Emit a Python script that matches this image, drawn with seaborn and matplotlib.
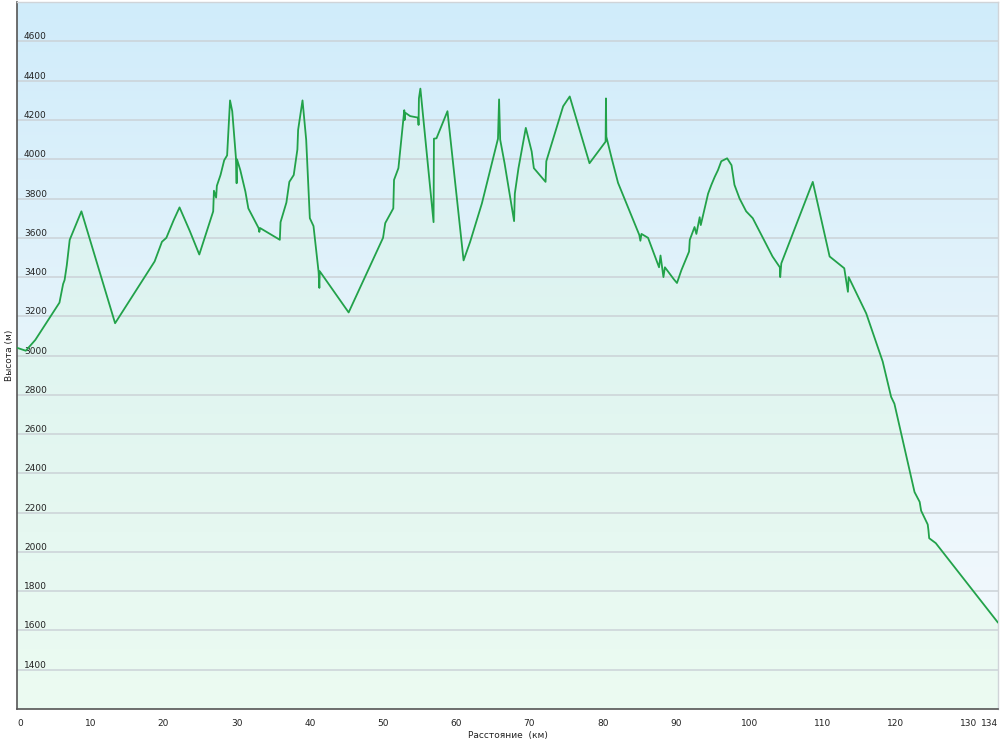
import numpy as np
import pandas as pd
import matplotlib
matplotlib.use("Agg")
import matplotlib.pyplot as plt
from matplotlib.colors import LinearSegmentedColormap
import seaborn as sns

# elevation profile
distance_km = [0.0, 1.2, 2.5, 5.8, 6.3, 6.5, 6.8, 7.2, 8.8, 13.4,
               18.8, 19.8, 20.4, 21.4, 22.2, 23.6, 24.9, 26.8, 26.9, 27.2,
               27.3, 27.8, 28.3, 28.7, 29.1, 29.4, 29.9, 30.0, 30.05, 30.5,
               31.2, 31.6, 33.0, 33.1, 33.2, 35.9, 36.0, 36.8, 37.2, 37.8,
               38.3, 38.4, 39.0, 39.5, 40.0, 40.5, 41.2, 41.3, 41.35, 45.3,
               50.0, 50.3, 51.4, 51.5, 52.1, 52.9, 52.95, 53.0, 53.7, 54.8,
               54.85, 54.9, 55.1, 56.9, 56.95, 57.3, 58.8, 61.0, 61.9, 63.5,
               65.7, 65.85, 66.0, 66.6, 67.9, 68.0, 68.5, 69.5, 70.3, 70.6,
               72.2, 72.3, 74.6, 75.5, 78.2, 80.4, 80.45, 80.5, 81.3, 82.1,
               85.0, 85.15, 85.3, 86.2, 87.7, 87.9, 88.3, 88.5, 89.7, 90.15,
               90.75, 91.8, 91.9, 92.55, 92.8, 93.25, 93.4, 94.4, 94.85, 95.3,
               95.75, 96.2, 97.0, 97.6, 98.0, 98.7, 99.6, 100.5, 103.2, 104.2,
               104.25, 104.4, 108.7, 109.4, 111.0, 113.0, 113.5, 113.6, 116.0, 118.25,
               119.4, 119.85, 122.6, 123.3, 123.5, 124.4, 124.5, 124.6, 125.5, 134.0]
elevation_m = [3040, 3025, 3080, 3270, 3365, 3385, 3460, 3590, 3735, 3165,
               3480, 3580, 3600, 3690, 3755, 3635, 3515, 3735, 3840, 3805,
               3865, 3920, 3995, 4020, 4300, 4245, 4010, 3878, 4000, 3945,
               3835, 3750, 3650, 3630, 3650, 3590, 3680, 3780, 3885, 3920,
               4050, 4150, 4300, 4100, 3700, 3660, 3425, 3345, 3430, 3220,
               3600, 3675, 3750, 3895, 3955, 4250, 4200, 4238, 4220, 4212,
               4175, 4310, 4360, 3680, 4105, 4107, 4245, 3485, 3580, 3775,
               4105, 4305, 4100, 3980, 3685, 3825, 3955, 4160, 4040, 3955,
               3885, 3990, 4270, 4320, 3980, 4090, 4310, 4115, 3995, 3880,
               3615, 3585, 3620, 3600, 3450, 3510, 3400, 3450, 3390, 3370,
               3435, 3530, 3590, 3655, 3620, 3705, 3665, 3825, 3870, 3910,
               3945, 3990, 4005, 3970, 3870, 3800, 3735, 3700, 3505, 3450,
               3400, 3470, 3885, 3770, 3505, 3445, 3325, 3400, 3215, 2970,
               2790, 2755, 2305, 2255, 2210, 2140, 2110, 2070, 2045, 1640]

x_ticks = [0, 10, 20, 30, 40, 50, 60, 70, 80, 90, 100, 110, 120, 130, 134]
y_ticks = [1400, 1600, 1800, 2000, 2200, 2400, 2600, 2800, 3000,
           3200, 3400, 3600, 3800, 4000, 4200, 4400, 4600]

df = pd.DataFrame({"km": distance_km, "elev": elevation_m})

sns.set_style("white")
plt.rcParams["font.family"] = ["DejaVu Sans"]

fig = plt.figure(figsize=(10, 7.44), dpi=100)
ax = fig.add_axes([0.017, 0.047, 0.981, 0.95])
x0, x1, y0, y1 = 0, 134, 1200, 4800
ax.set_xlim(x0, x1)
ax.set_ylim(y0, y1)
ax.set_axisbelow(False)

# background gradient (light blue on top, near white at bottom)
bg = LinearSegmentedColormap.from_list("bg", ["#f5fafe", "#e6f4fb", "#d0ecfa"])
grad = np.linspace(0, 1, 256).reshape(-1, 1)
ax.imshow(grad, cmap=bg, origin="lower", aspect="auto",
          extent=[x0, x1, y0, y1], zorder=0)

# green-tinted fill under the profile
fill = ax.fill_between(df["km"], df["elev"], y0, color="none", zorder=1)
fg = LinearSegmentedColormap.from_list("fg", ["#ecfbf2", "#e0f5f0", "#d6eff5"])
img = ax.imshow(grad, cmap=fg, origin="lower", aspect="auto",
                extent=[x0, x1, y0, y1], zorder=1)
img.set_clip_path(fill.get_paths()[0], transform=ax.transData)

for yv in y_ticks:
    ax.axhline(yv, color="#cbd2d7", lw=1.1, zorder=2)

sns.lineplot(data=df, x="km", y="elev", ax=ax, color="#22a24a", lw=1.3,
             estimator=None, sort=False, zorder=3)

ax.set_xticks(x_ticks)
ax.set_yticks(y_ticks)
ax.tick_params(axis="x", labelsize=6.5, length=3, width=0.8, color="#555555",
               direction="out", pad=4, labelcolor="#222222")
ax.tick_params(axis="y", labelsize=6.5, length=0, pad=-5, labelcolor="#222222")
for lab in ax.get_yticklabels():
    lab.set_horizontalalignment("left")
    lab.set_verticalalignment("bottom")
xlabs = ax.get_xticklabels()
xlabs[0].set_horizontalalignment("left")
xlabs[-1].set_horizontalalignment("right")

for side in ["left", "bottom"]:
    ax.spines[side].set_color("#555555")
    ax.spines[side].set_linewidth(1.2)
for side in ["top", "right"]:
    ax.spines[side].set_visible(True)
    ax.spines[side].set_color("#d0d4d8")
    ax.spines[side].set_linewidth(1.0)

ax.set_xlabel("Расстояние  (км)", fontsize=6.5, color="#222222", labelpad=2)
ax.set_ylabel("Высота (м)", fontsize=6.5, color="#222222", labelpad=2)

fig.savefig("out.png", dpi=100)
